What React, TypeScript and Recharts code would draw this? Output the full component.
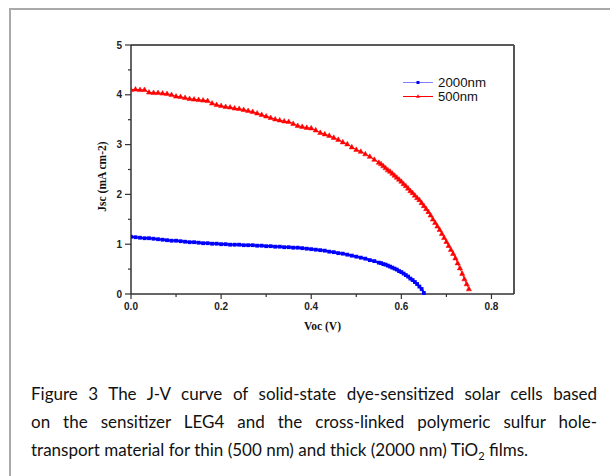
import React from "react";
import { Label, Legend, Line, LineChart, ReferenceLine, XAxis, YAxis } from "recharts";

// J-V curves, 500 nm (red triangles) vs 2000 nm (blue squares) TiO2 films.

const redVoc = [
  0.0, 0.01, 0.02, 0.03, 0.04, 0.05, 0.06, 0.07, 0.08, 0.09,
  0.1, 0.11, 0.12, 0.13, 0.14, 0.15, 0.16, 0.17, 0.18, 0.19,
  0.2, 0.21, 0.22, 0.23, 0.24, 0.25, 0.26, 0.27, 0.28, 0.29,
  0.3, 0.31, 0.32, 0.33, 0.34, 0.35, 0.36, 0.37, 0.38, 0.39,
  0.4, 0.41, 0.42, 0.43, 0.44, 0.45, 0.46, 0.47, 0.48, 0.49,
  0.5, 0.51, 0.52, 0.53, 0.54, 0.55, 0.555, 0.56, 0.565, 0.57,
  0.575, 0.58, 0.585, 0.59, 0.595, 0.6, 0.605, 0.61, 0.615, 0.62,
  0.625, 0.63, 0.635, 0.64, 0.645, 0.65, 0.655, 0.66, 0.665, 0.67,
  0.675, 0.68, 0.685, 0.69, 0.695, 0.7, 0.705, 0.71, 0.715, 0.72,
  0.725, 0.73, 0.735, 0.74, 0.745, 0.75,
];
const redJsc = [
  4.1, 4.11, 4.1, 4.1, 4.05, 4.04, 4.04, 4.03, 4.02, 4.0,
  3.97, 3.96, 3.94, 3.92, 3.91, 3.9, 3.89, 3.88, 3.83, 3.8,
  3.78, 3.76, 3.75, 3.73, 3.72, 3.7, 3.68, 3.66, 3.63, 3.6,
  3.57, 3.54, 3.51, 3.49, 3.47, 3.46, 3.42, 3.38, 3.36, 3.34,
  3.33, 3.29, 3.24, 3.21, 3.18, 3.14, 3.1, 3.05, 3.01, 2.95,
  2.9, 2.86, 2.81, 2.76, 2.7, 2.64, 2.61, 2.57, 2.53, 2.49,
  2.46, 2.42, 2.38, 2.34, 2.3, 2.26, 2.21, 2.17, 2.12, 2.07,
  2.03, 1.98, 1.93, 1.89, 1.83, 1.77, 1.71, 1.65, 1.58, 1.5,
  1.43, 1.36, 1.29, 1.21, 1.13, 1.05, 0.97, 0.89, 0.81, 0.72,
  0.62, 0.52, 0.41, 0.3, 0.2, 0.1,
];

const blueVoc = [
  0.0, 0.01, 0.02, 0.03, 0.04, 0.05, 0.06, 0.07, 0.08, 0.09,
  0.1, 0.11, 0.12, 0.13, 0.14, 0.15, 0.16, 0.17, 0.18, 0.19,
  0.2, 0.21, 0.22, 0.23, 0.24, 0.25, 0.26, 0.27, 0.28, 0.29,
  0.3, 0.31, 0.32, 0.33, 0.34, 0.35, 0.36, 0.37, 0.38, 0.39,
  0.4, 0.41, 0.42, 0.43, 0.44, 0.45, 0.46, 0.47, 0.48, 0.49,
  0.5, 0.51, 0.52, 0.53, 0.54, 0.55, 0.555, 0.56, 0.565, 0.57,
  0.575, 0.58, 0.585, 0.59, 0.595, 0.6, 0.605, 0.61, 0.615, 0.62,
  0.625, 0.63, 0.635, 0.64, 0.645, 0.65,
];
const blueJsc = [
  1.15, 1.14, 1.13, 1.12, 1.12, 1.11, 1.1, 1.09, 1.08, 1.07,
  1.07, 1.06, 1.05, 1.04, 1.04, 1.03, 1.02, 1.02, 1.01, 1.01,
  1.0, 1.0, 0.99, 0.99, 0.99, 0.98, 0.98, 0.98, 0.97, 0.97,
  0.96, 0.96, 0.95, 0.95, 0.94, 0.94, 0.93, 0.93, 0.92, 0.91,
  0.9, 0.89, 0.88, 0.87, 0.85, 0.84, 0.82, 0.81, 0.79, 0.77,
  0.75, 0.73, 0.71, 0.68, 0.66, 0.63, 0.62, 0.6, 0.59, 0.57,
  0.55, 0.53, 0.51, 0.49, 0.46, 0.44, 0.41, 0.38, 0.35, 0.31,
  0.28, 0.24, 0.2, 0.15, 0.1, 0.02,
];

const xTicks = [0, 0.1, 0.2, 0.3, 0.4, 0.5, 0.6, 0.7, 0.8];
const yTicks = [0, 0.5, 1, 1.5, 2, 2.5, 3, 3.5, 4, 4.5, 5];

const captionLines = [
  "Figure 3 The J-V curve of solid-state dye-sensitized solar cells based",
  "on the sensitizer LEG4 and the cross-linked polymeric sulfur hole-",
];

const RED = "#ff0000";
const BLUE = "#0000ff";
const TICK_FONT = "'Liberation Sans', Arial, sans-serif";
const SERIF = "'Liberation Serif', 'Times New Roman', serif";

const redData = redVoc.map((v, i) => ({ v, j: redJsc[i] }));
const blueData = blueVoc.map((v, i) => ({ v, j: blueJsc[i] }));

function XTick(props: any) {
  const { x, y, payload } = props;
  const v = payload.value as number;
  const major = Math.round(v * 10) % 2 === 0;
  const axisY = y - 8;
  return (
    <g>
      <line x1={x} x2={x} y1={axisY} y2={axisY + (major ? 5 : 3)} stroke="#333" strokeWidth={1.2} />
      {major && (
        <text x={x} y={axisY + 16} textAnchor="middle" fontFamily={TICK_FONT} fontWeight="bold" fontSize={10} fill="#222">
          {v.toFixed(1)}
        </text>
      )}
    </g>
  );
}

function YTick(props: any) {
  const { x, y, payload } = props;
  const v = payload.value as number;
  const major = Number.isInteger(v);
  const axisX = x + 8;
  return (
    <g>
      <line x1={axisX} x2={axisX - (major ? 6 : 3)} y1={y} y2={y} stroke="#333" strokeWidth={1.2} />
      {major && (
        <text x={axisX - 9} y={y + 3.6} textAnchor="end" fontFamily={TICK_FONT} fontWeight="bold" fontSize={10} fill="#222">
          {v}
        </text>
      )}
    </g>
  );
}

function triangleDot(props: any) {
  const { cx, cy, index } = props;
  if (cx == null || cy == null) return <g key={`r${index}`} />;
  return (
    <path
      key={`r${index}`}
      d={`M${cx},${cy - 2.8}L${cx + 2.6},${cy + 1.8}L${cx - 2.6},${cy + 1.8}Z`}
      fill={RED}
      stroke={RED}
      strokeWidth={0.5}
    />
  );
}

function squareDot(props: any) {
  const { cx, cy, index } = props;
  if (cx == null || cy == null) return <g key={`b${index}`} />;
  return <rect key={`b${index}`} x={cx - 1.9} y={cy - 1.9} width={3.8} height={3.8} fill={BLUE} />;
}

function LegendBox() {
  return (
    <svg width={100} height={32} style={{ display: "block", overflow: "visible" }}>
      <line x1={3} x2={33} y1={7.5} y2={7.5} stroke="#8080ff" strokeWidth={1} />
      <rect x={16.5} y={6} width={3} height={3} fill={BLUE} />
      <text x={38} y={11.8} fontFamily={TICK_FONT} fontSize={12} textLength={48} lengthAdjust="spacingAndGlyphs" fill="#111">
        2000nm
      </text>
      <line x1={3} x2={33} y1={21.5} y2={21.5} stroke={RED} strokeWidth={1} />
      <path d="M18,19.2L20,22.8L16,22.8Z" fill={RED} />
      <text x={38} y={25.8} fontFamily={TICK_FONT} fontSize={12} textLength={40} lengthAdjust="spacingAndGlyphs" fill="#111">
        500nm
      </text>
    </svg>
  );
}

export default function App() {
  return (
    <div style={{ position: "absolute", left: 0, top: 0, width: 610, height: 476, overflow: "hidden", background: "#fff" }}>
      {/* document frame around the figure */}
      <div
        style={{
          position: "absolute",
          left: 9,
          top: 8,
          width: 700,
          height: 600,
          borderLeft: "2px solid #a9a9a9",
          borderTop: "2px solid #a9a9a9",
        }}
      />
      <div style={{ position: "absolute", left: 0, top: 0 }}>
        <LineChart width={610} height={476} margin={{ top: 45, right: 96, bottom: 152, left: 91 }}>
          <XAxis
            type="number"
            dataKey="v"
            domain={[0, 0.85]}
            ticks={xTicks}
            allowDataOverflow
            height={30}
            tickSize={6}
            tickMargin={2}
            tickLine={false}
            tick={<XTick />}
            axisLine={{ stroke: "#333", strokeWidth: 1.5 }}
          >
            <Label
              content={(p: any) => {
                const vb = p.viewBox;
                return (
                  <text x={vb.x + vb.width / 2} y={vb.y + 36} textAnchor="middle" fontFamily={SERIF} fontWeight="bold" fontSize={11.5} fill="#111">
                    Voc (V)
                  </text>
                );
              }}
            />
          </XAxis>
          <YAxis
            type="number"
            dataKey="j"
            domain={[0, 5]}
            ticks={yTicks}
            width={40}
            tickSize={6}
            tickMargin={2}
            tickLine={false}
            tick={<YTick />}
            axisLine={{ stroke: "#333", strokeWidth: 1.5 }}
          >
            <Label
              content={(p: any) => {
                const vb = p.viewBox;
                const cx = vb.x + vb.width - 25;
                const cy = vb.y + vb.height / 2 + 7;
                return (
                  <text x={cx} y={cy} transform={`rotate(-90, ${cx}, ${cy})`} textAnchor="middle" fontFamily={SERIF} fontWeight="bold" fontSize={11.5} fill="#111">
                    Jsc (mA cm-2)
                  </text>
                );
              }}
            />
          </YAxis>
          <ReferenceLine y={5} stroke="#222" strokeWidth={1.4} />
          <ReferenceLine x={0.85} stroke="#555" strokeWidth={2} />
          <Line
            data={blueData}
            dataKey="j"
            name="2000nm"
            stroke={BLUE}
            strokeWidth={2.2}
            dot={squareDot}
            isAnimationActive={false}
          />
          <Line
            data={redData}
            dataKey="j"
            name="500nm"
            stroke={RED}
            strokeWidth={1}
            dot={triangleDot}
            isAnimationActive={false}
          />
          <Legend
            layout="vertical"
            align="center"
            verticalAlign="middle"
            wrapperStyle={{ top: 75, left: 400, width: 100 }}
            content={() => <LegendBox />}
          />
        </LineChart>
      </div>
      {/* figure caption */}
      <div
        style={{
          position: "absolute",
          left: 31,
          top: 380,
          width: 566,
          fontFamily: "Lato, 'Open Sans', sans-serif",
          fontSize: 17,
          lineHeight: "28px",
          color: "#111",
        }}
      >
        {captionLines.map((t) => (
          <div key={t} style={{ textAlign: "justify", textAlignLast: "justify", whiteSpace: "nowrap" }}>
            {t}
          </div>
        ))}
        <div style={{ whiteSpace: "nowrap" }}>
          transport material for thin (500 nm) and thick (2000 nm) TiO
          <span style={{ fontSize: 11, position: "relative", top: 4 }}>2</span> films.
        </div>
      </div>
    </div>
  );
}
